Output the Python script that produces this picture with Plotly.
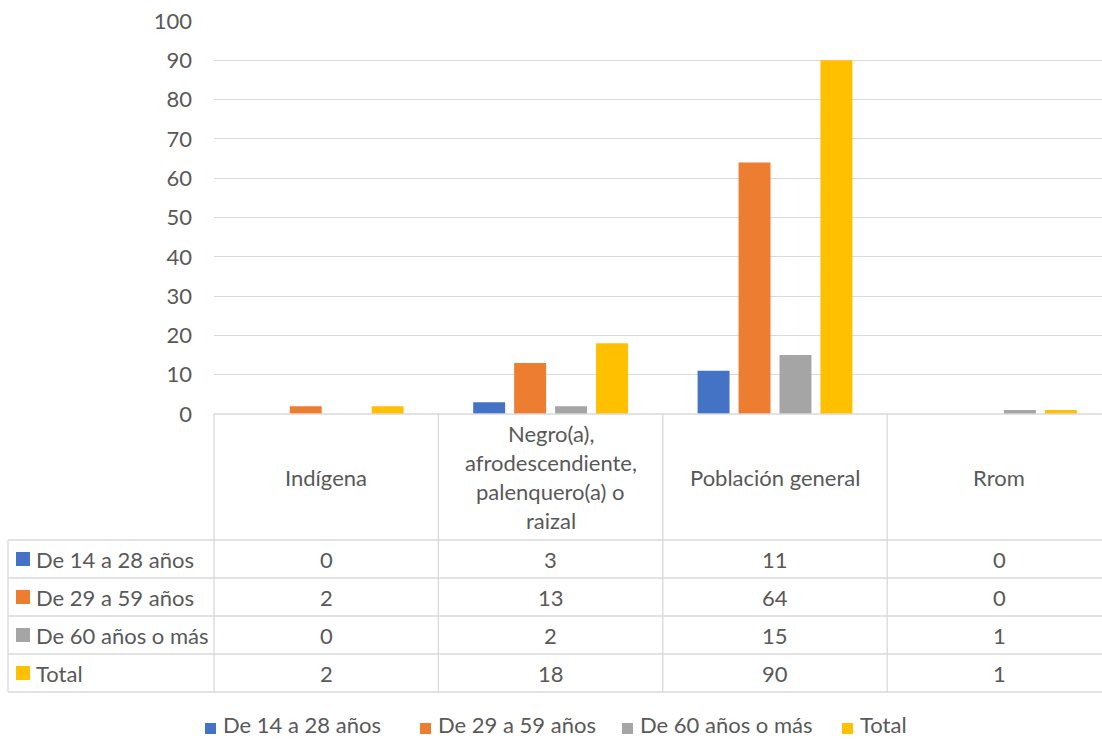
import plotly.graph_objects as go

# Data
categories = ["Indígena", "Negro(a), afrodescendiente, palenquero(a) o raizal",
              "Población general", "Rrom"]
header_lines = [["Indígena"],
                ["Negro(a),", "afrodescendiente,", "palenquero(a) o", "raizal"],
                ["Población general"],
                ["Rrom"]]
series = ["De 14 a 28 años", "De 29 a 59 años", "De 60 años o más", "Total"]
v_14_28 = [0, 3, 11, 0]
v_29_59 = [2, 13, 64, 0]
v_60_mas = [0, 2, 15, 1]
v_total = [2, 18, 90, 1]
values = [v_14_28, v_29_59, v_60_mas, v_total]
y_ticks = [0, 10, 20, 30, 40, 50, 60, 70, 80, 90, 100]

colors = ["#4472C4", "#ED7D31", "#A5A5A5", "#FFC000"]
TXT = "#595959"
GRID = "#D9D9D9"
FONT = "Lato, Carlito, Calibri, sans-serif"
FS = 22

W, H = 1102, 739
L, R, T, B = 214, 0, 21, 325
plot_w = W - L - R
plot_h = H - T - B
col_w = 224.4  # pixel width of one category column

def py(y):
    return (H - B - y) / plot_h

def px(x):
    return (x - L) / plot_w

x_idx = list(range(len(categories)))

fig = go.Figure()
for name, vals, col in zip(series, values, colors):
    fig.add_trace(go.Bar(x=x_idx, y=vals, name=name, marker_color=col,
                         marker_line_width=0, showlegend=False))

shapes = []
line = dict(color=GRID, width=1.3)
# table horizontal rules
shapes.append(dict(type="line", xref="paper", yref="paper", x0=0, x1=1.05,
                   y0=py(414), y1=py(414), line=line))
for yy in [540, 578, 616, 654, 692]:
    shapes.append(dict(type="line", xref="paper", yref="paper", x0=px(8), x1=1.05,
                       y0=py(yy), y1=py(yy), line=line))
# table vertical rules
shapes.append(dict(type="line", xref="paper", yref="paper", x0=px(8), x1=px(8),
                   y0=py(540), y1=py(692), line=line))
shapes.append(dict(type="line", xref="paper", yref="paper", x0=0, x1=0,
                   y0=py(414), y1=py(692), line=line))
for c in x_idx[:-1]:
    shapes.append(dict(type="line", xref="x", yref="paper", x0=c + 0.5, x1=c + 0.5,
                       y0=py(414), y1=py(692), line=line))

annotations = []
font = dict(family=FONT, size=FS, color=TXT)
# header cells
for c, lines in zip(x_idx, header_lines):
    if len(lines) == 1:
        annotations.append(dict(x=c, y=py(477), xref="x", yref="paper", text=lines[0],
                                showarrow=False, font=font, xanchor="center", yanchor="middle"))
    else:
        for k, t in enumerate(lines):
            annotations.append(dict(x=c, y=py(433 + 29.3 * k), xref="x", yref="paper", text=t,
                                    showarrow=False, font=font, xanchor="center", yanchor="middle"))

row_y = [559, 597, 635, 673]
for name, vals, col, yy in zip(series, values, colors, row_y):
    shapes.append(dict(type="rect", xref="paper", yref="paper", x0=px(16), x1=px(30),
                       y0=py(yy - 7), y1=py(yy + 7), fillcolor=col, line=dict(width=0)))
    annotations.append(dict(x=px(34), y=py(yy), xref="paper", yref="paper", text=name,
                            showarrow=False, font=font, xanchor="left", yanchor="middle"))
    for c, v in zip(x_idx, vals):
        annotations.append(dict(x=c, y=py(yy), xref="x", yref="paper", text=str(v),
                                showarrow=False, font=font, xanchor="center", yanchor="middle"))

# bottom legend
leg_sq = [205, 420, 622, 842]
for name, col, x0 in zip(series, colors, leg_sq):
    shapes.append(dict(type="rect", xref="paper", yref="paper", x0=px(x0), x1=px(x0 + 11),
                       y0=py(723), y1=py(734), fillcolor=col, line=dict(width=0)))
    annotations.append(dict(x=px(x0 + 16), y=py(724), xref="paper", yref="paper", text=name,
                            showarrow=False, font=font, xanchor="left", yanchor="middle"))

fig.update_layout(
    width=W, height=H, autosize=False,
    margin=dict(l=L, r=R, t=T, b=B, pad=0),
    paper_bgcolor="white", plot_bgcolor="white",
    barmode="group", bargap=0.27, bargroupgap=0.22,
    showlegend=False,
    xaxis=dict(range=[-0.5, -0.5 + plot_w / col_w], showticklabels=False,
               showgrid=False, zeroline=False, showline=False, ticks=""),
    yaxis=dict(range=[0, 100], tickvals=y_ticks, showgrid=True, gridcolor=GRID,
               gridwidth=1.3, zeroline=False, showline=False, ticks="",
               ticklabelstandoff=21, tickfont=font),
    shapes=shapes,
    annotations=annotations,
)

fig.write_html("out.html")
